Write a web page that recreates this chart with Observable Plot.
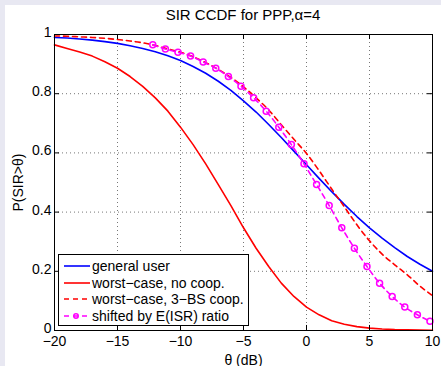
<!DOCTYPE html>
<html>
<head>
<meta charset="utf-8">
<script src="https://cdn.jsdelivr.net/npm/d3@7"></script>
<script src="https://cdn.jsdelivr.net/npm/@observablehq/plot@0.6"></script>
<style>
  html, body { margin: 0; padding: 0; }
  body { width: 441px; height: 366px; background: #e8e8f2; position: relative; overflow: hidden;
         font-family: "Liberation Sans", Arial, Helvetica, sans-serif; }
  #fig { position: absolute; left: 5px; top: 5px; width: 436px; height: 361px; background: #fff; }
  #title { position: absolute; left: 49px; width: 378px; top: 2px; text-align: center; font-size: 15px; line-height: 16px; color: #000; }
  #legend { position: absolute; left: 53px; top: 249px; width: 191px; height: 72px; border: 1px solid #000; background: #fff; box-sizing: border-box; }
  .row { position: absolute; left: 0; height: 16px; font-size: 14px; line-height: 16px; white-space: nowrap; color: #000; }
  .row svg { position: absolute; left: 4px; top: 0; }
  .row span { position: absolute; left: 33px; top: 0; }
</style>
</head>
<body>
<div id="fig">
  <div id="chart"></div>
  <div id="title">SIR CCDF for PPP,α=4</div>
  <div id="legend"></div>
</div>
<script>
// ---- data ----
const thetaDB = [-20,-19,-18,-17,-16,-15,-14,-13,-12,-11,-10,-9,-8,-7,-6,-5,-4,-3,-2,-1,0,1,2,3,4,5,6,7,8,9,10];
const generalUser = [0.990,0.988,0.985,0.981,0.976,0.970,0.962,0.953,0.942,0.928,0.912,0.892,0.869,0.842,0.811,0.776,0.738,0.696,0.652,0.606,0.560,0.514,0.469,0.426,0.385,0.347,0.312,0.280,0.250,0.224,0.200];
const worstNoCoop = [0.965,0.953,0.941,0.927,0.908,0.886,0.858,0.825,0.786,0.741,0.687,0.628,0.563,0.493,0.422,0.347,0.278,0.216,0.160,0.115,0.079,0.053,0.033,0.021,0.013,0.008,0.005,0.003,0.002,0.0012,0.0008];
const worstCoop3 = [0.995,0.994,0.992,0.990,0.987,0.983,0.978,0.972,0.963,0.951,0.940,0.925,0.905,0.882,0.855,0.823,0.786,0.745,0.695,0.646,0.598,0.540,0.478,0.418,0.357,0.303,0.258,0.222,0.188,0.150,0.118];
const shiftedTheta = [-12.2,-11.2,-10.2,-9.2,-8.2,-7.2,-6.2,-5.2,-4.2,-3.2,-2.2,-1.2,-0.2,0.8,1.8,2.8,3.8,4.8,5.8,6.8,7.8,8.8,9.8];
const shiftedRatio = [0.965,0.951,0.940,0.927,0.907,0.886,0.858,0.825,0.786,0.741,0.687,0.628,0.563,0.493,0.422,0.347,0.278,0.216,0.160,0.115,0.079,0.053,0.031];
const xTicks = [-20,-15,-10,-5,0,5,10];
const yTicks = [0,0.2,0.4,0.6,0.8,1];
const yTickLabels = ["0","0.2","0.4","0.6","0.8","1"];
const seriesNames = ["general user","worst−case, no coop.","worst−case, 3−BS coop.","shifted by E(ISR) ratio"];
const seriesColors = ["#0000ff","#ff0000","#ff0000","#ff00ff"];
const titleText = "SIR CCDF for PPP,α=4";
const xLabel = "θ (dB)";
const yLabel = "P(SIR>θ)";

// ---- tables ----
const mk = (xs, ys) => xs.map((x, i) => ({x, y: ys[i]}));
const tGeneral = mk(thetaDB, generalUser);
const tNoCoop = mk(thetaDB, worstNoCoop);
const tCoop = mk(thetaDB, worstCoop3);
const tShift = mk(shiftedTheta, shiftedRatio);

const tickLenX = 0.4;   // in dB
const tickLenY = 0.017; // in probability

const chart = Plot.plot({
  width: 436,
  height: 361,
  marginLeft: 49,
  marginRight: 9,
  marginTop: 29,
  marginBottom: 36,
  style: {fontFamily: "'Liberation Sans', Arial, Helvetica, sans-serif", fontSize: "14px", background: "transparent", color: "#000", overflow: "visible"},
  x: {domain: [-20, 10]},
  y: {domain: [0, 1]},
  marks: [
    Plot.ruleX(xTicks.slice(1, -1), {x: d => d, stroke: "#777", strokeDasharray: "1,3", strokeWidth: 1}),
    Plot.ruleY(yTicks.slice(1, -1), {y: d => d, stroke: "#777", strokeDasharray: "1,3", strokeWidth: 1}),
    Plot.line(tGeneral, {x: "x", y: "y", stroke: seriesColors[0], strokeWidth: 1.6}),
    Plot.line(tNoCoop, {x: "x", y: "y", stroke: seriesColors[1], strokeWidth: 1.6}),
    Plot.line(tCoop, {x: "x", y: "y", stroke: seriesColors[2], strokeWidth: 1.6, strokeDasharray: "5,4", curve: "monotone-x"}),
    Plot.line(tShift, {x: "x", y: "y", stroke: seriesColors[3], strokeWidth: 1.6, strokeDasharray: "5,4", curve: "monotone-x"}),
    Plot.dot(tShift, {x: "x", y: "y", r: 3, stroke: seriesColors[3], fill: "none", strokeWidth: 1.5}),
    // inward ticks on all four sides
    Plot.ruleX(xTicks, {x: d => d, y1: 0, y2: tickLenY, stroke: "#000"}),
    Plot.ruleX(xTicks, {x: d => d, y1: 1 - tickLenY, y2: 1, stroke: "#000"}),
    Plot.ruleY(yTicks, {y: d => d, x1: -20, x2: -20 + tickLenX, stroke: "#000"}),
    Plot.ruleY(yTicks, {y: d => d, x1: 10 - tickLenX, x2: 10, stroke: "#000"}),
    Plot.frame({stroke: "#000", strokeWidth: 1}),
    Plot.axisX(xTicks, {tickSize: 0, tickPadding: 6, label: xLabel, labelAnchor: "center", labelOffset: 34, labelArrow: "none"}),
    Plot.axisY(yTicks, {tickSize: 0, tickPadding: 3, dy: -2, tickFormat: d => yTickLabels[yTicks.indexOf(d)], label: yLabel, labelAnchor: "center", labelOffset: 41, labelArrow: "none"})
  ]
});
chart.style.position = "absolute";
chart.style.left = "0px";
chart.style.top = "0px";
document.getElementById("chart").appendChild(chart);

// ---- legend ----
const legend = document.getElementById("legend");
const rowTops = [3, 20, 36, 53];
seriesNames.forEach((name, i) => {
  const row = document.createElement("div");
  row.className = "row";
  row.style.top = rowTops[i] + "px";
  const dash = (i >= 2) ? 'stroke-dasharray="5,4"' : '';
  const marker = (i === 3) ? `<circle cx="13" cy="8" r="2.2" fill="none" stroke="${seriesColors[i]}" stroke-width="1.6"/>` : '';
  row.innerHTML = `<svg width="28" height="16"><line x1="1" y1="8" x2="27" y2="8" stroke="${seriesColors[i]}" stroke-width="1.6" ${dash}/>${marker}</svg><span>${name}</span>`;
  legend.appendChild(row);
});
</script>
</body>
</html>
